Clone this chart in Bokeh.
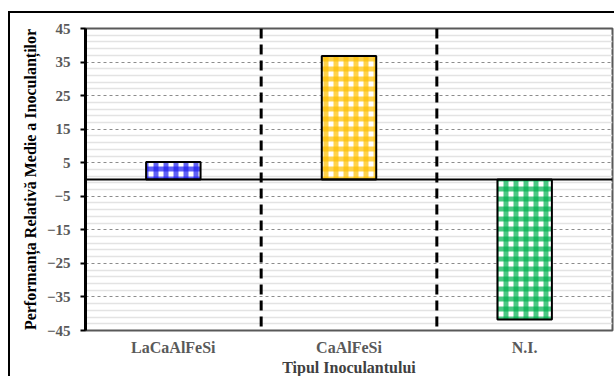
from bokeh.plotting import figure
from bokeh.models import ColumnDataSource, FactorRange, Range1d, FixedTicker, Span
from bokeh.embed import file_html
from bokeh.resources import INLINE

# Relative mean performance of each inoculant type
categories = ["LaCaAlFeSi", "CaAlFeSi", "N.I."]
performance = [5.2, 36.8, -41.7]
bar_colors = ["#1f1fef", "#ffc000", "#00b050"]

y_major = list(range(-45, 46, 10))
y_minor = [v for v in range(-45, 46, 2) if v not in y_major]

SERIF = "Liberation Serif"

src = ColumnDataSource(dict(cat=categories, val=performance, color=bar_colors))

p = figure(
    x_range=FactorRange(*categories, range_padding=0),
    y_range=Range1d(-45, 45),
    width=606, height=365,
    margin=(11, 0, 0, 8),
    styles={"border-left": "2px solid #000", "border-top": "2px solid #000"},
    min_border_left=75, min_border_right=4, min_border_top=15, min_border_bottom=45,
    output_backend="svg", toolbar_location=None,
    background_fill_color="white", border_fill_color="white",
)

# frame
p.outline_line_color = "#595959"
p.outline_line_width = 2

# grid: dashed majors every 10, light solid minors every 2
p.xgrid.grid_line_color = None
p.yaxis.ticker = FixedTicker(ticks=y_major, minor_ticks=y_minor)
p.ygrid.grid_line_color = "#8c8c8c"
p.ygrid.grid_line_dash = "3 3"
p.ygrid.grid_line_width = 1
p.ygrid.minor_grid_line_color = "#e3e3e3"
p.ygrid.minor_grid_line_width = 1.5

# y axis
p.yaxis.axis_line_color = "black"
p.yaxis.axis_line_width = 3
p.yaxis.major_tick_line_color = "black"
p.yaxis.major_tick_line_width = 2
p.yaxis.major_tick_out = 5
p.yaxis.major_tick_in = 0
p.yaxis.minor_tick_line_color = None
p.yaxis.major_label_text_font = SERIF
p.yaxis.major_label_text_font_style = "bold"
p.yaxis.major_label_text_font_size = "15px"
p.yaxis.major_label_text_color = "#595959"
p.yaxis.major_label_standoff = 10
p.yaxis.axis_label = "Performanța Relativă Medie a Inoculanților"
p.yaxis.axis_label_text_font = SERIF
p.yaxis.axis_label_text_font_style = "bold"
p.yaxis.axis_label_text_font_size = "16px"
p.yaxis.axis_label_text_color = "black"
p.yaxis.axis_label_standoff = 5

# x axis
p.xaxis.axis_line_color = None
p.xaxis.major_tick_line_color = None
p.xaxis.minor_tick_line_color = None
p.xaxis.major_tick_out = 0
p.xaxis.major_tick_in = 0
p.xaxis.major_label_text_font = SERIF
p.xaxis.major_label_text_font_style = "bold"
p.xaxis.major_label_text_font_size = "16px"
p.xaxis.major_label_text_color = "#595959"
p.xaxis.major_label_standoff = 8
p.xaxis.axis_label = "Tipul Inoculantului"
p.xaxis.axis_label_text_font = SERIF
p.xaxis.axis_label_text_font_style = "bold"
p.xaxis.axis_label_text_font_size = "16px"
p.xaxis.axis_label_text_color = "#404040"
p.xaxis.axis_label_standoff = 0

# dashed separators between the category groups
for i in range(1, len(categories)):
    p.add_layout(Span(location=i, dimension="height", line_color="black",
                      line_width=3, line_dash="10 6"))

# gingham-style bars: white base, vertical and horizontal colour stripes
p.vbar(x="cat", top="val", bottom=0, width=0.31, source=src,
       fill_color="white", line_color=None)
p.vbar(x="cat", top="val", bottom=0, width=0.31, source=src,
       fill_alpha=0, line_color=None,
       hatch_pattern="vertical_line", hatch_color="color",
       hatch_alpha=0.7, hatch_scale=10, hatch_weight=5)
p.vbar(x="cat", top="val", bottom=0, width=0.31, source=src,
       fill_alpha=0, line_color=None,
       hatch_pattern="horizontal_line", hatch_color="color",
       hatch_alpha=0.7, hatch_scale=10, hatch_weight=5)
p.vbar(x="cat", top="val", bottom=0, width=0.31, source=src,
       fill_alpha=0, line_color="black", line_width=2)

# zero line
p.add_layout(Span(location=0, dimension="width", line_color="black", line_width=2))

open("out.html", "w").write(file_html(p, INLINE))
